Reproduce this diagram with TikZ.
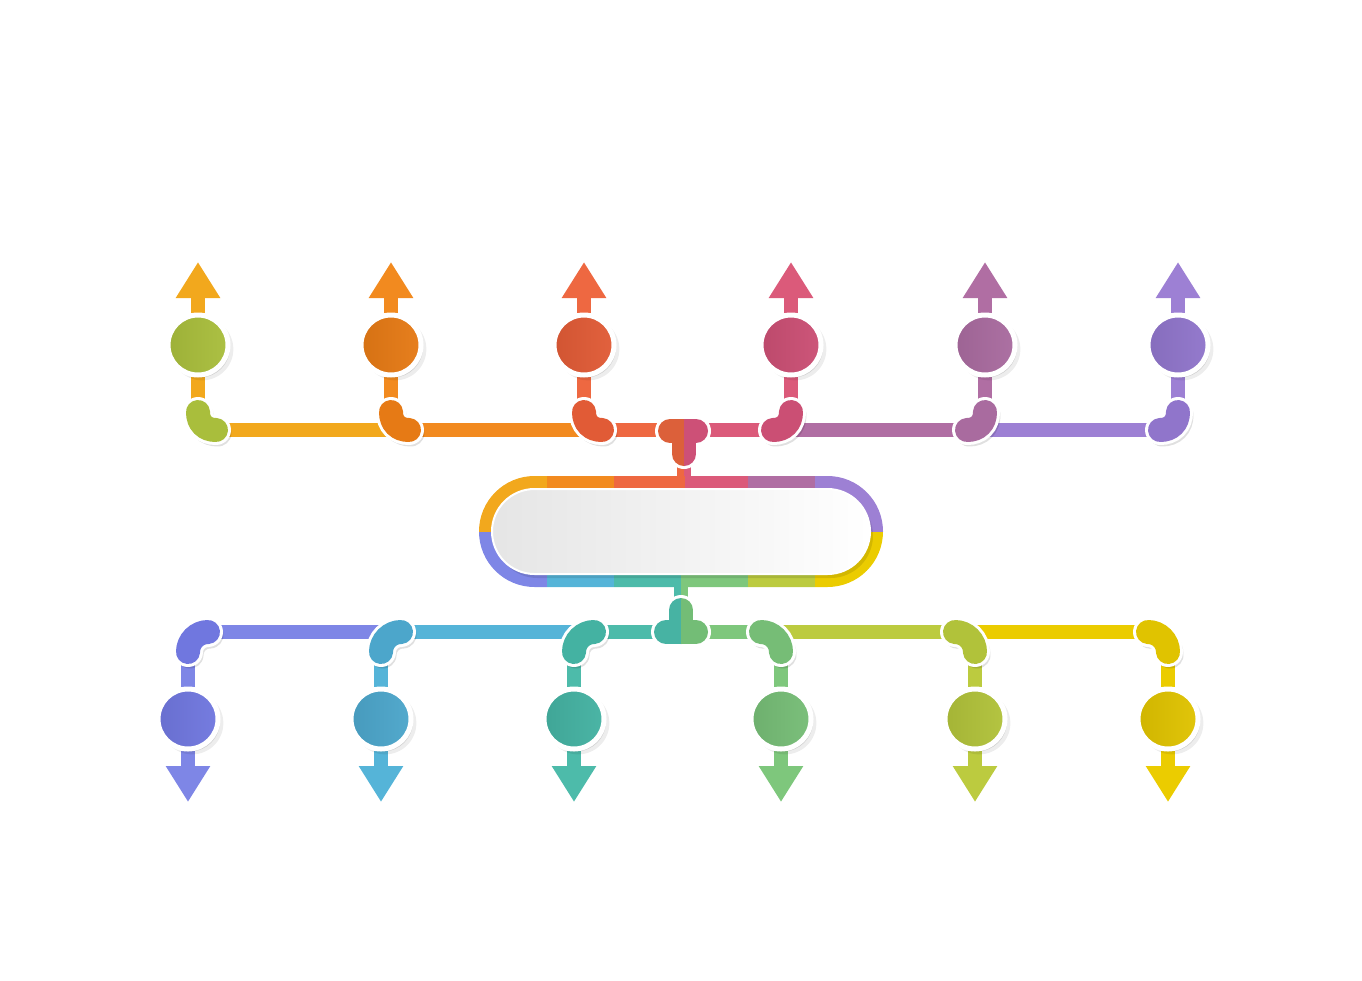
\documentclass[tikz,border=0pt]{standalone}
\usetikzlibrary{arrows.meta,shadows}
\pgfdeclarelayer{bg}
\pgfsetlayers{bg,main}
% top: stem/arrow/line colours and bubble/elbow colours
\definecolor{tA}{HTML}{F2A81D}\definecolor{tB}{HTML}{F28A1F}\definecolor{tC}{HTML}{EE6841}
\definecolor{tD}{HTML}{DB5A7A}\definecolor{tE}{HTML}{B06EA3}\definecolor{tF}{HTML}{9D80D4}
\definecolor{cA}{HTML}{A9BE3C}\definecolor{cB}{HTML}{E67A15}\definecolor{cC}{HTML}{E15B36}
\definecolor{cD}{HTML}{CB4F74}\definecolor{cE}{HTML}{A96B9F}\definecolor{cF}{HTML}{9075CB}
% bottom
\definecolor{bA}{HTML}{7E86E6}\definecolor{bB}{HTML}{55B4D8}\definecolor{bC}{HTML}{4DBBAA}
\definecolor{bD}{HTML}{7EC77C}\definecolor{bE}{HTML}{BCCB3F}\definecolor{bF}{HTML}{EBCC00}
\definecolor{dA}{HTML}{7077DF}\definecolor{dB}{HTML}{4CA6CB}\definecolor{dC}{HTML}{44B2A2}
\definecolor{dD}{HTML}{76BD76}\definecolor{dE}{HTML}{B1C23A}\definecolor{dF}{HTML}{E0C300}
\definecolor{ttL}{HTML}{DC603A}\definecolor{ttR}{HTML}{CD5077}
\definecolor{btL}{HTML}{47B3A3}\definecolor{btR}{HTML}{73BD76}
\begin{document}
\begin{tikzpicture}[x=1pt,y=-1pt,
  bubble/.style={circle,minimum size=60pt,inner sep=0pt,outer sep=0pt,draw=white,line width=5pt,
    drop shadow={shadow xshift=4pt,shadow yshift=-4pt,opacity=0.07,fill=black,shadow scale=1.04},
    drop shadow={shadow xshift=2pt,shadow yshift=-2.5pt,opacity=0.13,fill=black}},
  stem/.style={line width=14pt},
  bus/.style={line width=14pt},
  tipped/.style={-{Triangle[width=42pt,length=36pt]}},
  elbowshade/.style={line width=27pt,line cap=round,black,opacity=0.12,xshift=2pt,yshift=-3pt},
  elbowrim/.style={line width=30pt,line cap=round,white},
  elbowbody/.style={line width=24pt,line cap=round},
]
\useasboundingbox (0,0) rectangle (1362,980);

% ---------- bubbles ----------
\foreach \i/\x/\cc in {1/198/cA,2/391/cB,3/584/cC,4/791/cD,5/985/cE,6/1178/cF}{
  \node[bubble,left color=\cc!93!black,right color=\cc!96!white] (t\i) at (\x,345) {};
  \coordinate (t\i tip) at (\x,262);
  \coordinate (t\i e) at (\x,412);
}
\foreach \i/\x/\cc in {1/188/dA,2/381/dB,3/574/dC,4/781/dD,5/975/dE,6/1168/dF}{
  \node[bubble,left color=\cc!93!black,right color=\cc!96!white] (b\i) at (\x,719) {};
  \coordinate (b\i tip) at (\x,802);
  \coordinate (b\i e) at (\x,652);
}

% ---------- central box ----------
\node[minimum width=404pt,minimum height=111pt,inner sep=0pt,outer sep=0pt] (box) at (681,531.5) {};
\begin{scope}
  \clip[rounded corners=55.5pt] (box.south west) rectangle (box.north east);
  \fill[tA] (470,470) rectangle (547,531.5);
  \fill[tB] (547,470) rectangle (614,531.5);
  \fill[tC] (614,470) rectangle (685,531.5);
  \fill[tD] (685,470) rectangle (748,531.5);
  \fill[tE] (748,470) rectangle (815,531.5);
  \fill[tF] (815,470) rectangle (890,531.5);
  \fill[bA] (470,531.5) rectangle (547,595);
  \fill[bB] (547,531.5) rectangle (614,595);
  \fill[bC] (614,531.5) rectangle (681,595);
  \fill[bD] (681,531.5) rectangle (748,595);
  \fill[bE] (748,531.5) rectangle (815,595);
  \fill[bF] (815,531.5) rectangle (890,595);
\end{scope}
\fill[black,opacity=0.10,rounded corners=42.5pt] (495,493) rectangle (873,578);
\draw[white,line width=2pt,left color=black!10,right color=white,rounded corners=42.5pt]
  (492,489) rectangle (870,574);

\coordinate (tt) at (684,431);
\coordinate (bt) at (681,632);

\begin{pgfonlayer}{bg}
% ---------- buses ----------
\foreach \a/\b/\c in {216/391/tA,391/584/tB,584/685/tC,685/791/tD,791/985/tE,985/1160/tF}
  \draw[bus,\c] (\a,430) -- (\b,430);
\foreach \a/\b/\c in {208/381/bA,381/574/bB,574/681/bC,681/781/bD,781/975/bE,975/1148/bF}
  \draw[bus,\c] (\a,632) -- (\b,632);

% ---------- links T <-> box ----------
\draw[line width=7pt,tC] ([xshift=-3.5pt]tt) -- ([xshift=-3.5pt]tt |- box.north);
\draw[line width=7pt,tD] ([xshift=3.5pt]tt) -- ([xshift=3.5pt]tt |- box.north);
\draw[line width=7pt,bC] ([xshift=-3.5pt]bt) -- ([xshift=-3.5pt]bt |- box.south);
\draw[line width=7pt,bD] ([xshift=3.5pt]bt) -- ([xshift=3.5pt]bt |- box.south);

% ---------- stems and arrows ----------
\foreach \i/\c in {1/tA,2/tB,3/tC,4/tD,5/tE,6/tF}{
  \draw[stem,\c,tipped] (t\i) -- (t\i tip);
  \draw[stem,\c] (t\i) -- (t\i e);
}
\foreach \i/\c in {1/bA,2/bB,3/bC,4/bD,5/bE,6/bF}{
  \draw[stem,\c,tipped] (b\i) -- (b\i tip);
  \draw[stem,\c] (b\i) -- (b\i e);
}

% ---------- elbows ----------
\foreach \x/\s/\c in {198/1/cA,391/1/cB,584/1/cC,791/-1/cD,985/-1/cE,1178/-1/cF}{
  \draw[elbowshade] (\x,412) .. controls (\x,423) and ({\x+7*\s},430) .. ({\x+18*\s},430);
  \draw[elbowrim]   (\x,412) .. controls (\x,423) and ({\x+7*\s},430) .. ({\x+18*\s},430);
  \draw[elbowbody,\c] (\x,412) .. controls (\x,423) and ({\x+7*\s},430) .. ({\x+18*\s},430);
}
\foreach \x/\s/\c in {188/1/dA,381/1/dB,574/1/dC,781/-1/dD,975/-1/dE,1168/-1/dF}{
  \draw[elbowshade] ({\x+20*\s},632) .. controls ({\x+9*\s},632) and (\x,641) .. (\x,652);
  \draw[elbowrim]   ({\x+20*\s},632) .. controls ({\x+9*\s},632) and (\x,641) .. (\x,652);
  \draw[elbowbody,\c] ({\x+20*\s},632) .. controls ({\x+9*\s},632) and (\x,641) .. (\x,652);
}

% ---------- T junctions ----------
\draw[elbowshade] ([xshift=-14pt]tt) -- ([xshift=12pt]tt) (tt) -- ([yshift=-23pt]tt);
\draw[elbowrim,line join=round] ([xshift=-14pt]tt) -- ([xshift=12pt]tt) (tt) -- ([yshift=-23pt]tt);
\begin{scope}
  \clip (600,390) rectangle (tt |- 0,480);
  \draw[elbowbody,ttL] ([xshift=-14pt]tt) -- ([xshift=12pt]tt) (tt) -- ([yshift=-23pt]tt);
\end{scope}
\begin{scope}
  \clip (tt |- 0,390) rectangle (760,480);
  \draw[elbowbody,ttR] ([xshift=-14pt]tt) -- ([xshift=12pt]tt) (tt) -- ([yshift=-23pt]tt);
\end{scope}

\draw[elbowshade] ([xshift=-15pt]bt) -- ([xshift=15pt]bt) (bt) -- ([yshift=22pt]bt);
\draw[elbowrim,line join=round] ([xshift=-15pt]bt) -- ([xshift=15pt]bt) (bt) -- ([yshift=22pt]bt);
\begin{scope}
  \clip (600,590) rectangle (bt |- 0,670);
  \draw[elbowbody,btL] ([xshift=-15pt]bt) -- ([xshift=15pt]bt) (bt) -- ([yshift=22pt]bt);
\end{scope}
\begin{scope}
  \clip (bt |- 0,590) rectangle (760,670);
  \draw[elbowbody,btR] ([xshift=-15pt]bt) -- ([xshift=15pt]bt) (bt) -- ([yshift=22pt]bt);
\end{scope}
\end{pgfonlayer}
\end{tikzpicture}
\end{document}
